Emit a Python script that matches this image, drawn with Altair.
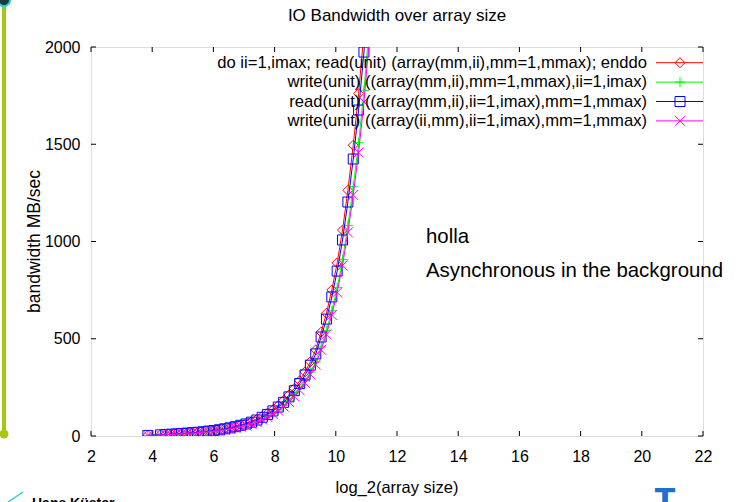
import altair as alt
import pandas as pd

# ---------------- data ----------------
x_log2 = [3.86, 4.27, 4.445, 4.62, 4.795, 4.97, 5.145, 5.32, 5.495, 5.67,
          5.845, 6.02, 6.195, 6.37, 6.545, 6.72, 6.895, 7.07, 7.245, 7.42,
          7.595, 7.77, 7.945, 8.12, 8.295, 8.47, 8.645, 8.82, 8.995, 9.17,
          9.345, 9.52, 9.695, 9.87, 10.045, 10.22, 10.395, 10.57, 10.745, 10.92,
          11.095]

bw_read_loop = [3, 6, 8, 10, 12, 14, 16, 18, 20, 23,
                26, 29, 34, 39, 44, 50, 58, 65, 75, 86,
                101, 117, 135, 156, 182, 211, 245, 284, 330, 382,
                443, 534, 631, 751, 890, 1059, 1263, 1495, 1760, 2073,
                2456]
bw_write_mm_ii = [3, 5, 7, 8, 10, 12, 13, 15, 17, 20,
                  22, 25, 29, 33, 38, 43, 50, 56, 64, 74,
                  86, 100, 116, 134, 156, 181, 210, 243, 283, 328,
                  380, 458, 541, 644, 763, 907, 1083, 1282, 1508, 1777,
                  2105]
bw_read_ii_mm = [3, 6, 8, 9, 11, 13, 15, 17, 19, 22,
                 25, 28, 32, 37, 42, 48, 55, 62, 71, 82,
                 96, 111, 129, 149, 173, 201, 233, 270, 314, 364,
                 422, 509, 601, 715, 848, 1008, 1203, 1424, 1676, 1974,
                 2339]
bw_write_ii_mm = [3, 5, 7, 8, 10, 11, 13, 15, 17, 19,
                  22, 24, 28, 32, 37, 42, 48, 54, 62, 71,
                  84, 97, 112, 130, 151, 175, 203, 235, 273, 317,
                  367, 443, 523, 622, 738, 877, 1047, 1239, 1458, 1717,
                  2035]

series_names = [
    "do ii=1,imax; read(unit) (array(mm,ii),mm=1,mmax); enddo",
    "write(unit) ((array(mm,ii),mm=1,mmax),ii=1,imax)",
    "read(unit) ((array(mm,ii),ii=1,imax),mm=1,mmax)",
    "write(unit) ((array(ii,mm),ii=1,imax),mm=1,mmax)",
]
series_values = [bw_read_loop, bw_write_mm_ii, bw_read_ii_mm, bw_write_ii_mm]
series_colors = ["#ff0000", "#00ff00", "#0000ff", "#ff00ff"]
series_shapes = ["diamond", "M-1,0H1M0,-1V1", "square", "M-1,-1L1,1M-1,1L1,-1"]

x_ticks = [2, 4, 6, 8, 10, 12, 14, 16, 18, 20, 22]
y_ticks = [0, 500, 1000, 1500, 2000]

title_text = "IO Bandwidth over array size"
x_title = "log_2(array size)"
y_title = "bandwidth MB/sec"
notes = ["holla", "Asynchronous in the background"]

# ---------------- layout ----------------
W, H = 612, 389
FONT = "Liberation Sans"

x_scale = alt.Scale(domain=[2, 22], nice=False, zero=False)
y_scale = alt.Scale(domain=[0, 2000], nice=False, zero=False)
x_axis = alt.Axis(values=x_ticks, title=None, grid=False, domain=False, ticks=False,
                  tickSize=0, labelPadding=12, labelFontSize=16, labelFont=FONT,
                  labelColor="#000", labelFlush=False, labelOverlap=False, format="d")
y_axis = alt.Axis(values=y_ticks, title=None, grid=False, domain=False, ticks=False,
                  tickSize=0, labelPadding=11, labelFontSize=16, labelFont=FONT,
                  labelColor="#000", labelOverlap=False, format="d")

X = alt.X("x:Q", scale=x_scale, axis=x_axis)
Y = alt.Y("y:Q", scale=y_scale, axis=y_axis)

layers = []

# inward tick marks (gnuplot style, mirrored)
xt = pd.DataFrame({"x": x_ticks})
yt = pd.DataFrame({"y": y_ticks})
layers.append(alt.Chart(xt).mark_rule(color="#000", strokeWidth=1).encode(
    x=X, y=alt.value(H), y2=alt.value(H - 5)))
layers.append(alt.Chart(xt).mark_rule(color="#000", strokeWidth=1).encode(
    x=X, y=alt.value(0), y2=alt.value(5)))
layers.append(alt.Chart(yt).mark_rule(color="#000", strokeWidth=1).encode(
    y=Y, x=alt.value(0), x2=alt.value(5)))
layers.append(alt.Chart(yt).mark_rule(color="#000", strokeWidth=1).encode(
    y=Y, x=alt.value(W - 5), x2=alt.value(W)))

# data series
for name, vals, col, shp in zip(series_names, series_values, series_colors, series_shapes):
    df = pd.DataFrame({"x": x_log2, "y": vals})
    layers.append(alt.Chart(df).mark_line(color=col, strokeWidth=1, clip=True).encode(x=X, y=Y))
    layers.append(alt.Chart(df).mark_point(shape=shp, color=col, filled=False, size=100,
                                           strokeWidth=1, clip=True, opacity=1).encode(x=X, y=Y))

# legend (gnuplot key, top right inside plot)
for i, (name, col, shp) in enumerate(zip(series_names, series_colors, series_shapes)):
    yy = 15.7 + 19.4 * i
    one = pd.DataFrame({"t": [name]})
    layers.append(alt.Chart(one).mark_text(align="right", baseline="middle", font=FONT,
                                           fontSize=16.6, color="#000").encode(
        text="t:N", x=alt.value(556), y=alt.value(yy)))
    layers.append(alt.Chart(one).mark_rule(color=col, strokeWidth=1).encode(
        x=alt.value(565), x2=alt.value(W), y=alt.value(yy)))
    layers.append(alt.Chart(one).mark_point(shape=shp, color=col, filled=False, size=100,
                                            strokeWidth=1, opacity=1).encode(
        x=alt.value(589), y=alt.value(yy)))

def label(text, x, y, size=16, align="center", baseline="middle", angle=0, color="#000",
          font=FONT, weight="normal"):
    d = pd.DataFrame({"t": [text]})
    return alt.Chart(d).mark_text(align=align, baseline=baseline, angle=angle, fontSize=size,
                                  font=font, color=color, fontWeight=weight).encode(
        text="t:N", x=alt.value(x), y=alt.value(y))

layers.append(label(title_text, 306, -31, size=17))
layers.append(label(x_title, 306, 441, size=16.5))
layers.append(label(y_title, -56, 194.5, size=17.5, angle=270))
layers.append(label(notes[0], 335, 196, size=20.4, align="left", baseline="alphabetic"))
layers.append(label(notes[1], 335, 230, size=20.4, align="left", baseline="alphabetic"))

# slide decorations
deco = pd.DataFrame({"t": ["a"]})
layers.append(alt.Chart(deco).mark_rule(color="#a4c814", strokeWidth=4).encode(
    x=alt.value(-87), y=alt.value(-47), y2=alt.value(387)))
layers.append(alt.Chart(deco).mark_point(filled=True, color="#a4c814", size=80, opacity=1).encode(
    x=alt.value(-87), y=alt.value(387)))
layers.append(alt.Chart(deco).mark_point(filled=True, color="#1a3a4a", size=150, opacity=1,
                                         stroke="#33cccc", strokeWidth=2).encode(
    x=alt.value(-87), y=alt.value(-47)))
layers.append(alt.Chart(deco).mark_rule(color="#33cccc", strokeWidth=1.5).encode(
    x=alt.value(-83), x2=alt.value(-68), y=alt.value(455), y2=alt.value(445)))
layers.append(label("Hans Küster", -59, 450, size=14, align="left", baseline="top",
                    weight="bold"))
layers.append(label("T", 574, 439, size=30, baseline="top", color="#1f6fd0",
                    font="DejaVu Sans", weight="bold"))

chart = alt.layer(*layers).properties(
    width=W, height=H,
    autosize=alt.AutoSizeParams(type="none"),
    padding={"left": 91, "top": 47, "right": 42, "bottom": 66},
).configure_view(stroke="#000", strokeWidth=1).configure(background="white")

chart.save("out.html", embed_options={"renderer": "svg", "actions": False})
